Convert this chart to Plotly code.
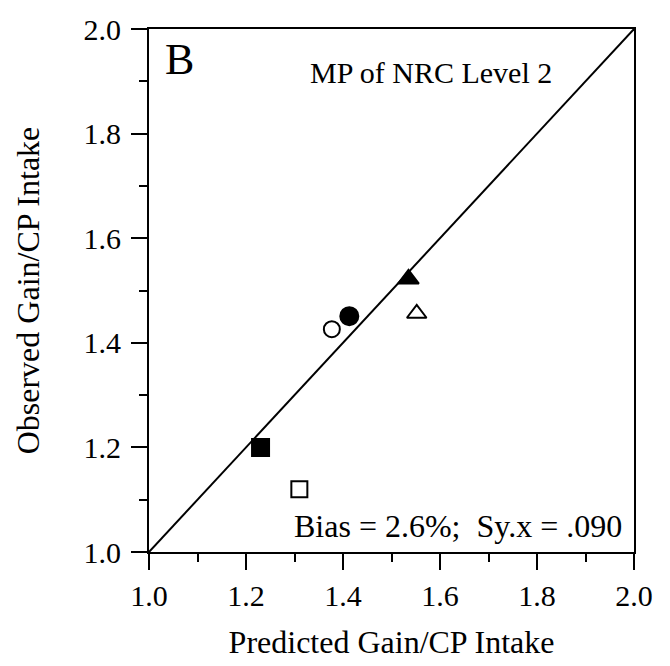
import plotly.graph_objects as go

# Data
predicted = [1.23, 1.31, 1.377, 1.413, 1.535, 1.552]
observed = [1.20, 1.12, 1.426, 1.451, 1.522, 1.456]
symbols = ["square", "square-open", "circle-open", "circle", "triangle-up", "triangle-up-open"]
sizes = [17, 16, 16, 18, 18, 17]
identity = [1.0, 2.0]

panel_label = "B"
panel_title = "MP of NRC Level 2"
stats_text = "Bias = 2.6%;  Sy.x = .090"
x_title = "Predicted Gain/CP Intake"
y_title = "Observed Gain/CP Intake"

FONT = "Liberation Serif, Times New Roman, serif"

fig = go.Figure()
fig.add_trace(go.Scatter(x=identity, y=identity, mode="lines",
                         line=dict(color="black", width=2), showlegend=False,
                         hoverinfo="skip"))
for xv, yv, sym, sz in zip(predicted, observed, symbols, sizes):
    fig.add_trace(go.Scatter(
        x=[xv], y=[yv], mode="markers", showlegend=False,
        marker=dict(symbol=sym, size=sz, color="black",
                    line=dict(color="black", width=2))))

axis_common = dict(
    range=[1.0, 2.0], dtick=0.2, tick0=1.0, tickformat=".1f",
    showline=True, linecolor="black", linewidth=2, mirror=True,
    ticks="outside", ticklen=16, tickwidth=2, tickcolor="black",
    minor=dict(dtick=0.1, ticks="outside", ticklen=8, tickwidth=2, tickcolor="black"),
    showgrid=False, zeroline=False,
    tickfont=dict(family=FONT, size=30, color="black"),
)

fig.update_xaxes(**axis_common,
                 title=dict(text=x_title, font=dict(family=FONT, size=32, color="black"),
                            standoff=20))
fig.update_yaxes(**axis_common, ticklabelstandoff=4,
                 title=dict(text=y_title, font=dict(family=FONT, size=32, color="black"),
                            standoff=34))

fig.add_annotation(text=panel_label, xref="paper", yref="paper", x=0.029, y=0.941,
                   xanchor="left", yanchor="middle", showarrow=False,
                   font=dict(family=FONT, size=44, color="black"))
fig.add_annotation(text=panel_title, xref="paper", yref="paper", x=0.581, y=0.917,
                   xanchor="center", yanchor="middle", showarrow=False,
                   font=dict(family=FONT, size=30, color="black"))
fig.add_annotation(text=stats_text, xref="paper", yref="paper", x=0.979, y=0.05,
                   xanchor="right", yanchor="middle", showarrow=False,
                   font=dict(family=FONT, size=32, color="black"))

fig.update_layout(
    width=670, height=666,
    margin=dict(l=149, r=36, t=29, b=108, pad=0),
    plot_bgcolor="white", paper_bgcolor="white",
)

fig.write_html("out.html")
